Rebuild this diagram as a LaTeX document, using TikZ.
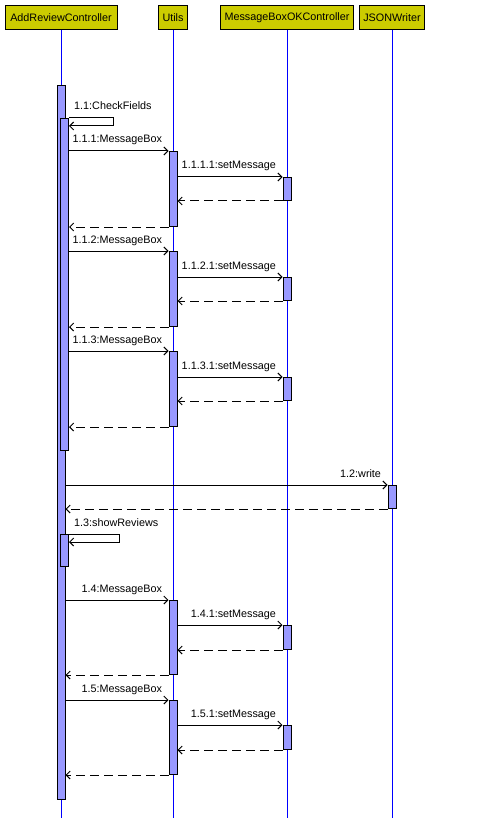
\documentclass[tikz,border=0pt]{standalone}
\usepackage{fontspec}
\setmainfont{Liberation Sans}
\usetikzlibrary{arrows.meta}
\definecolor{hdrfill}{RGB}{204,204,0}
\definecolor{barfill}{RGB}{153,153,255}
\definecolor{lifeblue}{RGB}{0,0,255}
\begin{document}
\begin{tikzpicture}[x=1pt,y=-1pt,
  every node/.style={font=\fontsize{10.8pt}{13pt}\selectfont},
  header/.style={draw=black, fill=hdrfill, line width=1pt, minimum height=24pt, inner sep=0pt, anchor=north},
  lifeline/.style={draw=lifeblue, line width=1pt},
  bar/.style={draw=black, fill=barfill, line width=1pt, minimum width=8pt, inner sep=0pt, anchor=north},
  msg/.style={draw=black, line width=1pt, -{Straight Barb[length=4pt,width=8pt]}},
  reply/.style={msg, dash pattern=on 9pt off 5pt},
  lbl/.style={inner sep=0pt, anchor=base east, xshift=-6pt, yshift=8pt},
  selflbl/.style={inner sep=0pt, anchor=base west, xshift=5pt, yshift=8pt}
]
\useasboundingbox (0,0) rectangle (496,818);
\coordinate (bottom) at (0,818);

% participants
\node[header, minimum width=112pt] (hA) at (61,5) {AddReviewController};
\node[header, minimum width=29pt]  (hU) at (173,5) {Utils};
\node[header, minimum width=133pt] (hM) at (287,5) {MessageBoxOKController};
\node[header, minimum width=65pt]  (hJ) at (392,5) {JSONWriter};

% lifelines
\draw[lifeline] (hA.south) -- (hA.south |- bottom);
\draw[lifeline] (hU.south) -- (hU.south |- bottom);
\draw[lifeline] (hM.south) -- (hM.south |- bottom);
\draw[lifeline] (hJ.south) -- (hJ.south |- bottom);

% main activation of the controller
\node[bar, minimum height=714pt] (mainbar) at (61,85) {};

% 1.1 CheckFields (self call)
\node[bar, minimum height=332pt] (cf) at (64.5,118) {};
\draw[msg] (cf.north east) -- ++(44,0) -- ++(0,8) -- ++(-44,0);
\node[selflbl] (lcf) at (cf.north east) {1.1:CheckFields};

% 1.1.1 .. 1.1.3 MessageBox calls
\node[bar, minimum height=75pt] (u1) at (173,151) {};
\node[bar, minimum height=23pt] (m1) at (287,177) {};
\draw[msg] (cf.east |- u1.north) -- (u1.north west) node[lbl]{1.1.1:MessageBox};
\draw[msg] (u1.east |- m1.north) -- (m1.north west) node[lbl]{1.1.1.1:setMessage};
\draw[reply] (m1.south west) -- (u1.east |- m1.south);
\draw[reply] (u1.south west) -- (cf.east |- u1.south);

\node[bar, minimum height=75pt] (u2) at (173,251) {};
\node[bar, minimum height=23pt] (m2) at (287,277) {};
\draw[msg] (cf.east |- u2.north) -- (u2.north west) node[lbl]{1.1.2:MessageBox};
\draw[msg] (u2.east |- m2.north) -- (m2.north west) node[lbl]{1.1.2.1:setMessage};
\draw[reply] (m2.south west) -- (u2.east |- m2.south);
\draw[reply] (u2.south west) -- (cf.east |- u2.south);

\node[bar, minimum height=75pt] (u3) at (173,351) {};
\node[bar, minimum height=23pt] (m3) at (287,377) {};
\draw[msg] (cf.east |- u3.north) -- (u3.north west) node[lbl]{1.1.3:MessageBox};
\draw[msg] (u3.east |- m3.north) -- (m3.north west) node[lbl]{1.1.3.1:setMessage};
\draw[reply] (m3.south west) -- (u3.east |- m3.south);
\draw[reply] (u3.south west) -- (cf.east |- u3.south);

% 1.2 write
\node[bar, minimum height=23pt] (j1) at (392,485) {};
\draw[msg] (mainbar.east |- j1.north) -- (j1.north west) node[lbl]{1.2:write};
\draw[reply] (j1.south west) -- (mainbar.east |- j1.south);

% 1.3 showReviews (self call)
\node[bar, minimum height=32pt] (sr) at (64.5,534) {};
\draw[msg] (sr.north east) -- ++(50,0) -- ++(0,8) -- ++(-50,0);
\node[selflbl] (lsr) at (sr.north east) {1.3:showReviews};

% 1.4 and 1.5 MessageBox calls
\node[bar, minimum height=74pt] (u4) at (173,600) {};
\node[bar, minimum height=24pt] (m4) at (287,625) {};
\draw[msg] (mainbar.east |- u4.north) -- (u4.north west) node[lbl]{1.4:MessageBox};
\draw[msg] (u4.east |- m4.north) -- (m4.north west) node[lbl]{1.4.1:setMessage};
\draw[reply] (m4.south west) -- (u4.east |- m4.south);
\draw[reply] (u4.south west) -- (mainbar.east |- u4.south);

\node[bar, minimum height=74pt] (u5) at (173,700) {};
\node[bar, minimum height=24pt] (m5) at (287,725) {};
\draw[msg] (mainbar.east |- u5.north) -- (u5.north west) node[lbl]{1.5:MessageBox};
\draw[msg] (u5.east |- m5.north) -- (m5.north west) node[lbl]{1.5.1:setMessage};
\draw[reply] (m5.south west) -- (u5.east |- m5.south);
\draw[reply] (u5.south west) -- (mainbar.east |- u5.south);
\end{tikzpicture}
\end{document}
